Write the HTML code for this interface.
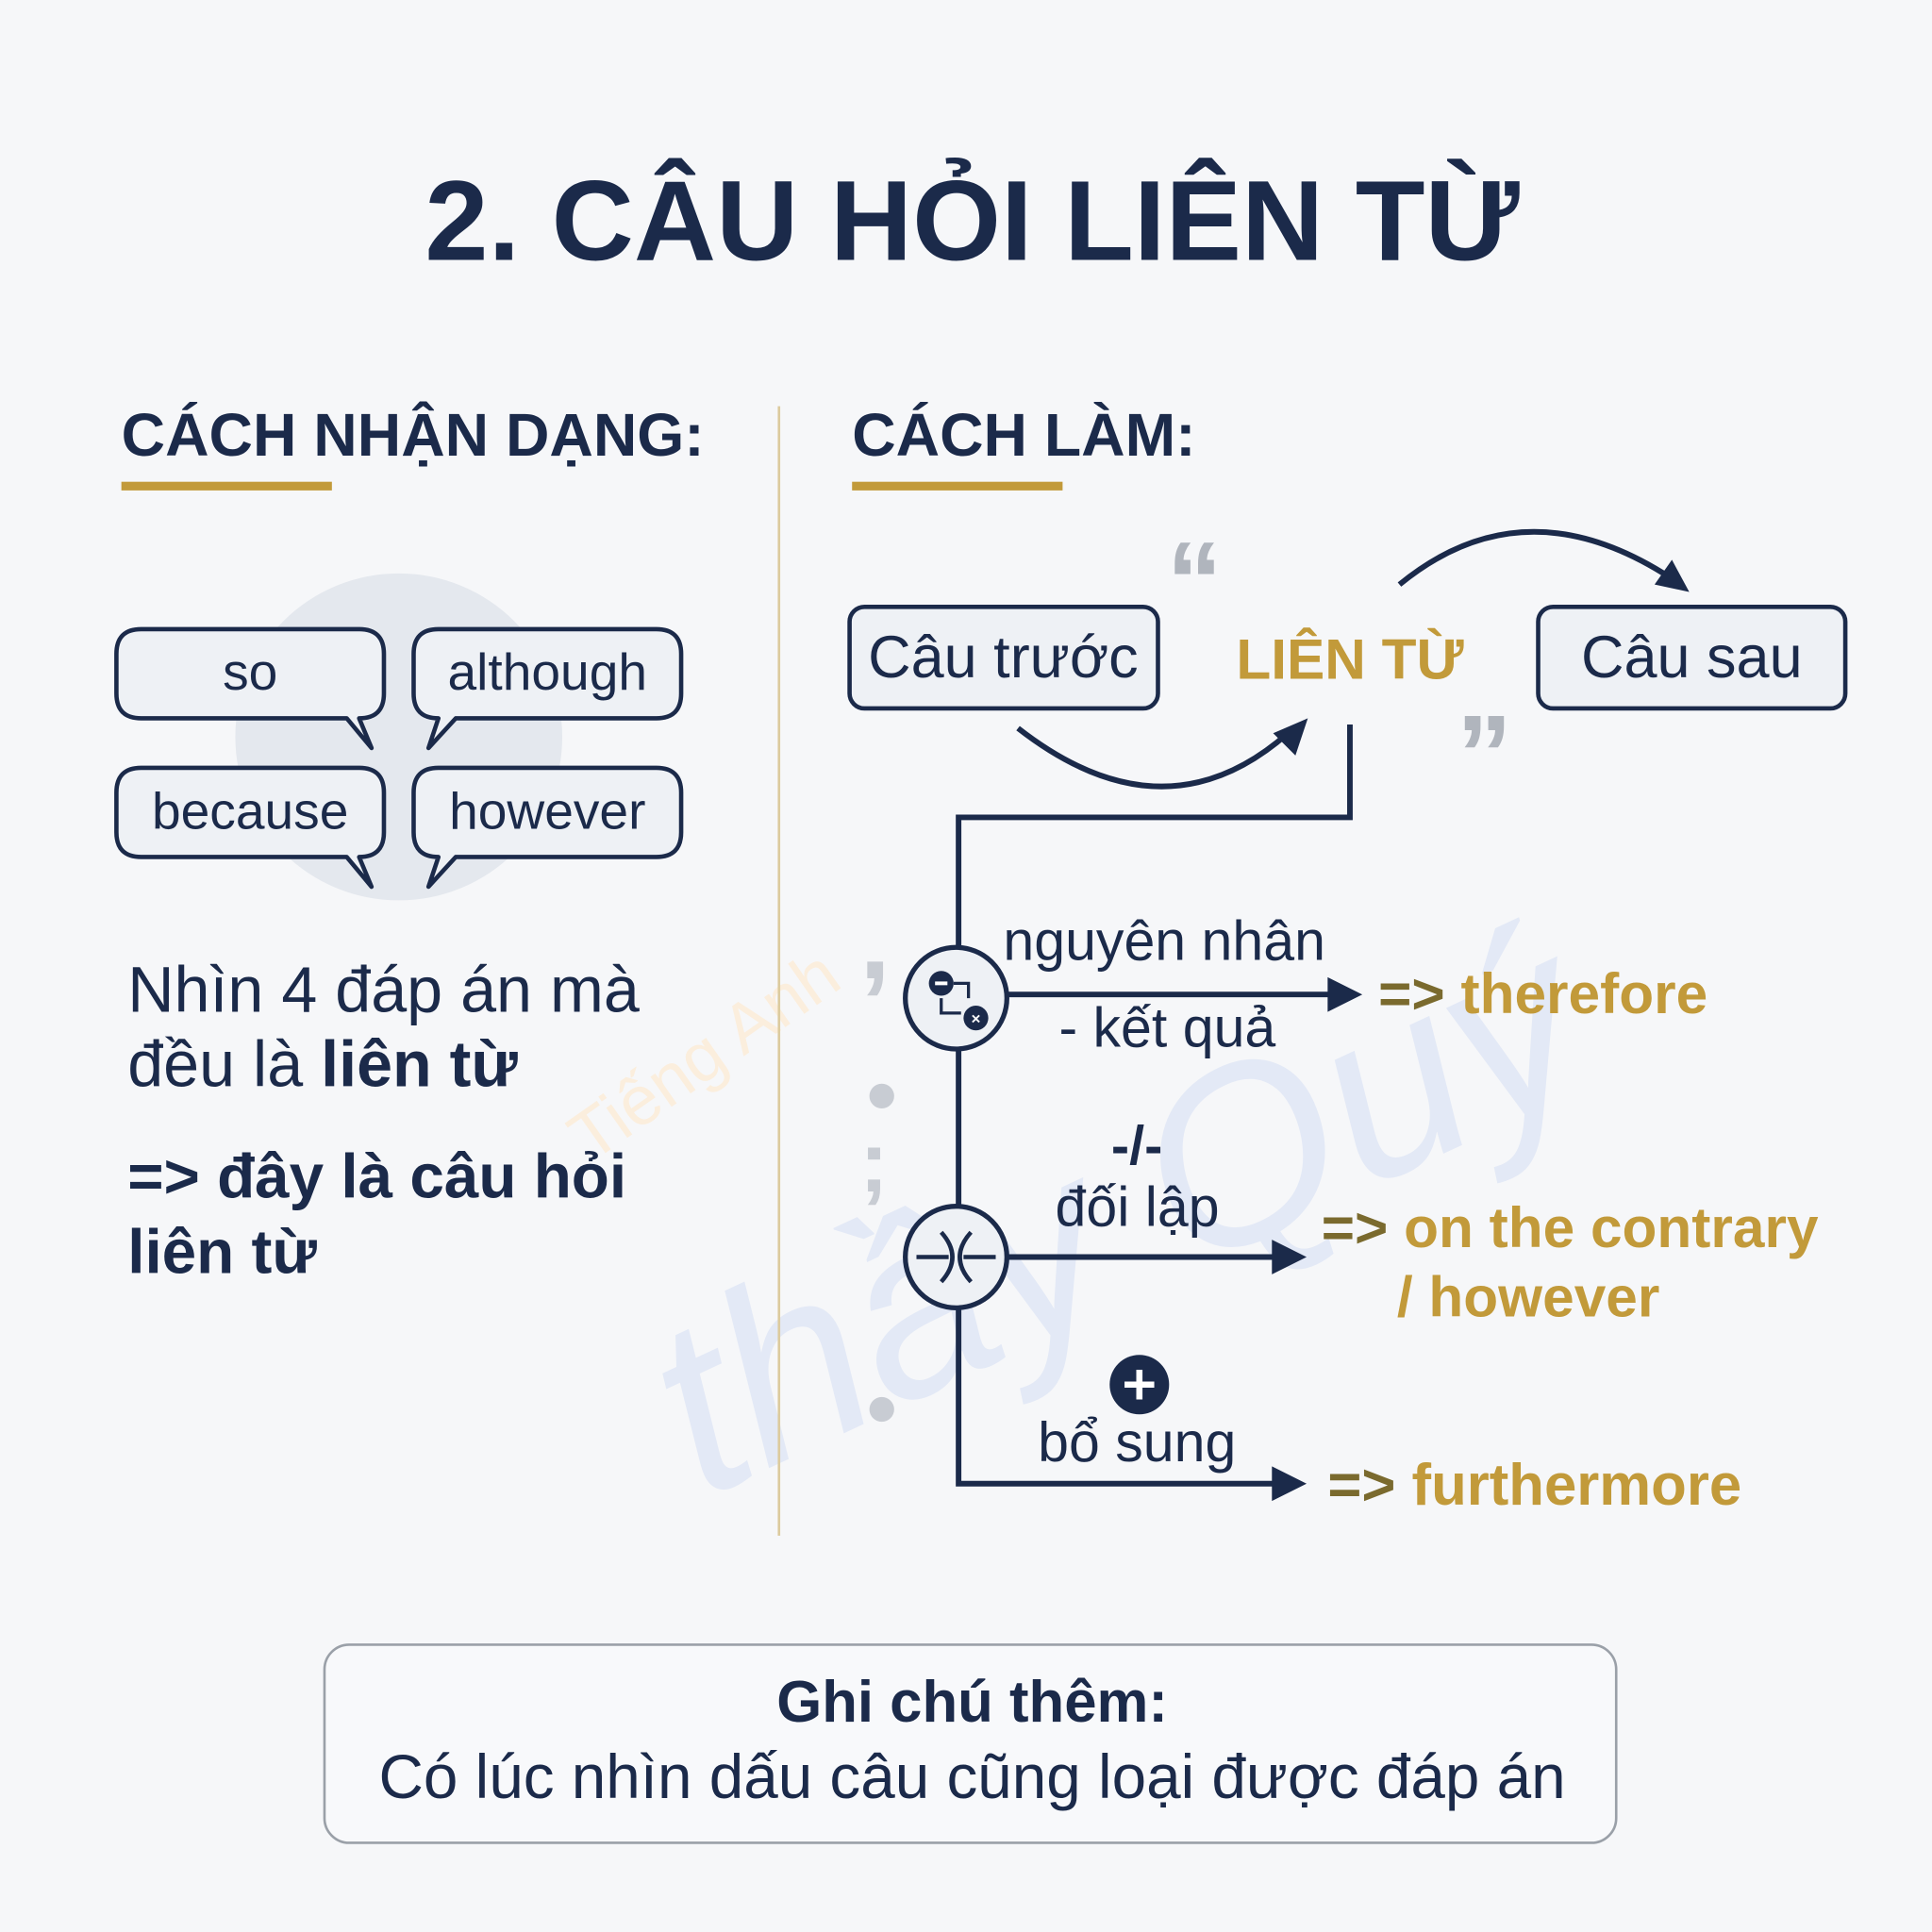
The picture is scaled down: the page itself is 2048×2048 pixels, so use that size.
<!DOCTYPE html>
<html><head><meta charset="utf-8"><style>
html,body{margin:0;padding:0;background:#f6f7f9;}
svg{display:block;}
text{font-family:"Liberation Sans","DejaVu Sans",sans-serif;}
</style></head><body>
<svg width="2048" height="2048" viewBox="0 0 1560 1560" xmlns="http://www.w3.org/2000/svg">
<rect width="1560" height="1560" fill="#f6f7f9"/>
<!-- watermark -->
<text x="470" y="1130" font-size="200" fill="#e3e9f6" font-style="italic" font-family="Liberation Serif,serif" transform="rotate(-25 700 950)">thầy Quý</text>
<text x="430" y="910" font-size="56" fill="#fbeedd" transform="rotate(-35 500 850)">Tiếng Anh</text>

<text x="785" y="210" text-anchor="middle" font-size="92" font-weight="bold" fill="#1b2a4a">2. CÂU HỎI LIÊN TỪ</text>

<text x="98" y="368" font-size="49" font-weight="bold" fill="#1b2a4a">CÁCH NHẬN DẠNG:</text>
<rect x="98" y="389" width="170" height="7" fill="#c29a3a"/>
<text x="688" y="368" font-size="49" font-weight="bold" fill="#1b2a4a">CÁCH LÀM:</text>
<rect x="688" y="389" width="170" height="7" fill="#c29a3a"/>
<rect x="628" y="328" width="2" height="912" fill="#dccb9e"/>

<!-- bubbles -->
<circle cx="322" cy="595" r="132" fill="#e4e8ee"/>
<g fill="#eef1f5" stroke="#1b2a4a" stroke-width="3.5" stroke-linejoin="round">
<path d="M114 508 H290 Q310 508 310 528 V560 Q310 580 290 580 L300 604 L280 580 H114 Q94 580 94 560 V528 Q94 508 114 508Z"/>
<path d="M354 508 H530 Q550 508 550 528 V560 Q550 580 530 580 H368 L346 604 L354 580 Q334 580 334 560 V528 Q334 508 354 508Z"/>
<path d="M114 620 H290 Q310 620 310 640 V672 Q310 692 290 692 L300 716 L280 692 H114 Q94 692 94 672 V640 Q94 620 114 620Z"/>
<path d="M354 620 H530 Q550 620 550 640 V672 Q550 692 530 692 H368 L346 716 L354 692 Q334 692 334 672 V640 Q334 620 354 620Z"/>
</g>
<g font-size="42" fill="#1b2a4a" text-anchor="middle">
<text x="202" y="557">so</text><text x="442" y="557">although</text>
<text x="202" y="669">because</text><text x="442" y="669">however</text>
</g>

<g font-size="52" fill="#1b2a4a">
<text x="103" y="817">Nhìn 4 đáp án mà</text>
<text x="103" y="877">đều là <tspan font-weight="bold">liên từ</tspan></text>
<text x="103" y="967" font-weight="bold" font-size="50">=&gt; đây là câu hỏi</text>
<text x="103" y="1028" font-weight="bold" font-size="50">liên từ</text>
</g>

<!-- right diagram -->
<text x="942" y="500" font-size="90" fill="#b0b5bd" font-family="Liberation Serif,serif" font-weight="bold">“</text>
<text x="1176" y="640" font-size="90" fill="#b0b5bd" font-family="Liberation Serif,serif" font-weight="bold">”</text>
<rect x="686" y="490" width="249" height="82" rx="12" fill="#eef1f5" stroke="#1b2a4a" stroke-width="3.5"/>
<text x="810" y="547" text-anchor="middle" font-size="48" fill="#1b2a4a">Câu trước</text>
<rect x="1242" y="490" width="248" height="82" rx="12" fill="#eef1f5" stroke="#1b2a4a" stroke-width="3.5"/>
<text x="1366" y="547" text-anchor="middle" font-size="48" fill="#1b2a4a">Câu sau</text>
<text x="1090" y="548" text-anchor="middle" font-size="46" font-weight="bold" fill="#c29a3a">LIÊN TỪ</text>

<g fill="none" stroke="#1b2a4a" stroke-width="4.5">
<path d="M822 588 Q940 680 1040 592"/>
<path d="M1130 472 Q1230 390 1348 466"/>
<path d="M1090 585 V660 H774 V1198 H1030"/>
<path d="M812 803 H1075"/>
<path d="M812 1015 H1030"/>
</g>
<g fill="#1b2a4a">
<polygon points="1056,580 1028,592 1046,610"/>
<polygon points="1364,478 1336,472 1350,452"/>
<polygon points="1100,803 1072,789 1072,817"/>
<polygon points="1055,1015 1027,1001 1027,1029"/>
<polygon points="1055,1198 1027,1184 1027,1212"/>
</g>
<circle cx="772" cy="806" r="41" fill="#eef1f5" stroke="#1b2a4a" stroke-width="4"/>
<circle cx="760" cy="794" r="10" fill="#1b2a4a"/><rect x="755" y="792.5" width="10" height="3" fill="#fff"/>
<circle cx="788" cy="822" r="10" fill="#1b2a4a"/>
<text x="788" y="827" text-anchor="middle" font-size="13" fill="#fff" font-weight="bold">×</text>
<path d="M770 794 H782 V806 M760 806 V818 H776" fill="none" stroke="#1b2a4a" stroke-width="2.5"/>
<circle cx="772" cy="1015" r="41" fill="#eef1f5" stroke="#1b2a4a" stroke-width="4"/>
<path d="M760 995 Q778 1015 760 1035 M784 995 Q766 1015 784 1035 M740 1015 H766 M778 1015 H804" fill="none" stroke="#1b2a4a" stroke-width="3.5"/>
<circle cx="920" cy="1118" r="24" fill="#1b2a4a"/>
<path d="M920 1106 V1130 M908 1118 H932" stroke="#fff" stroke-width="5"/>
<circle cx="712" cy="885" r="10" fill="#c8ccd3"/><circle cx="712" cy="1138" r="10" fill="#c8ccd3"/>
<text x="694" y="790" font-size="90" fill="#c8ccd3" font-weight="bold" font-family="Liberation Serif,serif">,</text>
<text x="694" y="962" font-size="70" fill="#c8ccd3" font-weight="bold" font-family="Liberation Serif,serif">;</text>

<g font-size="45" fill="#1b2a4a">
<text x="810" y="775">nguyên nhân</text>
<text x="855" y="845">- kết quả</text>
<text x="918" y="940" text-anchor="middle" font-weight="bold" font-size="44">-/-</text>
<text x="852" y="990">đối lập</text>
<text x="838" y="1180">bổ sung</text>
</g>
<g font-size="46" font-weight="bold" fill="#c29a3a">
<text x="1113" y="818"><tspan fill="#7a6a2e">=&gt;</tspan> therefore</text>
<text x="1067" y="1007"><tspan fill="#7a6a2e">=&gt;</tspan> on the contrary</text>
<text x="1128" y="1063">/ however</text>
<text x="1072" y="1215" font-size="47"><tspan fill="#7a6a2e">=&gt;</tspan> furthermore</text>
</g>

<rect x="262" y="1328" width="1043" height="160" rx="20" fill="#f8f9fb" stroke="#9aa0a8" stroke-width="2"/>
<text x="785" y="1390" text-anchor="middle" font-size="47" font-weight="bold" fill="#1b2a4a">Ghi chú thêm:</text>
<text x="785" y="1452" text-anchor="middle" font-size="50" fill="#1b2a4a">Có lúc nhìn dấu câu cũng loại được đáp án</text>
</svg>
</body></html>
